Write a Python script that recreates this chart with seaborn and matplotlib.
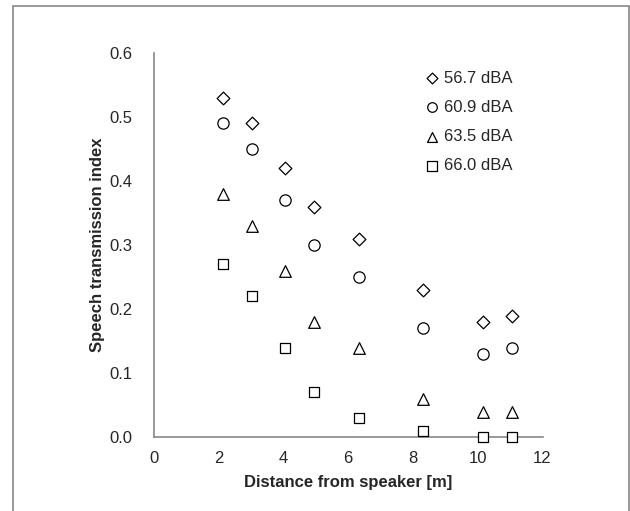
import matplotlib
matplotlib.use("Agg")
import matplotlib.pyplot as plt
import seaborn as sns
import pandas as pd
from matplotlib.patches import Rectangle

distance = [2.15, 3.05, 4.05, 4.95, 6.35, 8.3, 10.15, 11.05]
series_labels = ["56.7 dBA", "60.9 dBA", "63.5 dBA", "66.0 dBA"]
sti_567 = [0.53, 0.49, 0.42, 0.36, 0.31, 0.23, 0.18, 0.19]
sti_609 = [0.49, 0.45, 0.37, 0.30, 0.25, 0.17, 0.13, 0.14]
sti_635 = [0.38, 0.33, 0.26, 0.18, 0.14, 0.06, 0.04, 0.04]
sti_660 = [0.27, 0.22, 0.14, 0.07, 0.03, 0.01, 0.00, 0.00]
x_ticks = [0, 2, 4, 6, 8, 10, 12]
y_ticks = [0.0, 0.1, 0.2, 0.3, 0.4, 0.5, 0.6]

rows = []
for lab, vals in zip(series_labels, [sti_567, sti_609, sti_635, sti_660]):
    for d, v in zip(distance, vals):
        rows.append({"Distance": d, "STI": v, "Level": lab})
df = pd.DataFrame(rows)

sns.set_style("white")
plt.rcParams['font.family'] = ['Liberation Sans', 'DejaVu Sans']

fig = plt.figure(figsize=(6.3, 5.11), dpi=100)
x0, x1, ytop, ybot = 153.5, 542.5, 52.7, 437.3
ax = fig.add_axes([x0/630, 1-ybot/511, (x1-x0)/630, (ybot-ytop)/511])

markers = {series_labels[0]: "D", series_labels[1]: "o", series_labels[2]: "^", series_labels[3]: "s"}
sizes = {series_labels[0]: 42, series_labels[1]: 66, series_labels[2]: 70, series_labels[3]: 60}
for lab in series_labels:
    sub = df[df["Level"] == lab]
    sns.scatterplot(data=sub, x="Distance", y="STI", marker=markers[lab], s=sizes[lab],
                    facecolor="white", edgecolor="black", linewidth=0.9, ax=ax,
                    label=lab, zorder=3, clip_on=False)

ax.set_xlim(0, 12)
ax.set_ylim(0, 0.6)
ax.set_xticks(x_ticks)
ax.set_yticks(y_ticks)
ax.set_xticklabels([str(t) for t in x_ticks])
ax.set_yticklabels([f"{t:.1f}" for t in y_ticks])
ax.tick_params(axis='both', direction='in', length=4, width=1, color='#888888',
               labelsize=12)
ax.tick_params(axis='x', pad=10)
ax.tick_params(axis='y', pad=15)
for side in ["top", "right"]:
    ax.spines[side].set_visible(False)
for side in ["left", "bottom"]:
    ax.spines[side].set_color('#888888')
    ax.spines[side].set_linewidth(1.2)
ax.set_xlabel("Distance from speaker [m]", fontsize=12, fontweight='bold', labelpad=6)
ax.set_ylabel("Speech transmission index", fontsize=12, fontweight='bold', labelpad=3)

leg = ax.legend(loc='upper left', bbox_to_anchor=((412-x0)/(x1-x0), 1-(64-ytop)/(ybot-ytop)),
                frameon=False, fontsize=12, handletextpad=-0.1, labelspacing=0.85,
                markerscale=0.85, borderaxespad=0, handlelength=1.6)

fig.patches.append(Rectangle((13/630, -0.05), (629-13)/630, 1.05-6.3/511,
                             transform=fig.transFigure, fill=False,
                             edgecolor='#888888', linewidth=1.2))

fig.savefig("out.png", dpi=100)
